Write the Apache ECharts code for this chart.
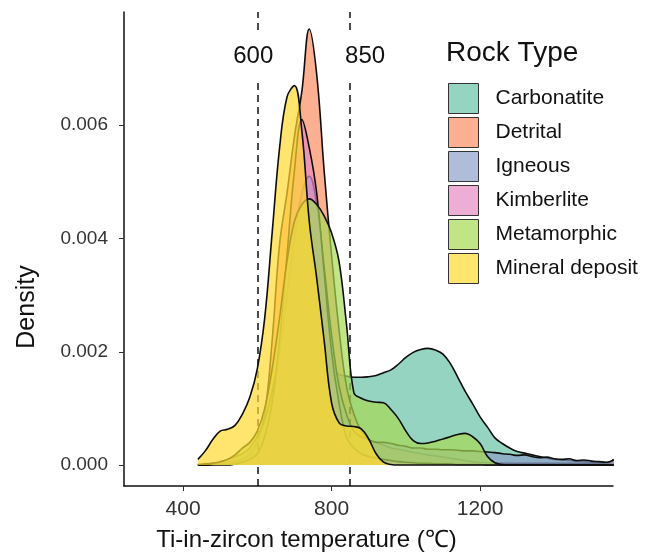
<!DOCTYPE html>
<html>
<head>
<meta charset="utf-8">
<script src="https://cdn.jsdelivr.net/npm/echarts@6/dist/echarts.min.js"></script>
<style>
  html, body { margin: 0; padding: 0; background: #ffffff; }
  #chart { width: 646px; height: 560px; }
</style>
</head>
<body>
<div id="chart"></div>
<script>
// Temperature grid (°C) on which every density curve is sampled
const temps = [
  440, 460, 480, 500, 520, 540, 560, 580, 600, 620,
  640, 660, 680, 700, 720, 740, 760, 780, 800, 820,
  840, 860, 880, 900, 920, 940, 960, 980, 1000, 1020,
  1040, 1060, 1080, 1100, 1120, 1140, 1160, 1180, 1200, 1220,
  1240, 1260, 1280, 1300, 1320, 1340, 1360, 1380, 1400, 1420,
  1440, 1460, 1480, 1500, 1520, 1540, 1560
];

const rockTypes = ['Carbonatite', 'Detrital', 'Igneous', 'Kimberlite', 'Metamorphic', 'Mineral deposit'];

// Kernel density of Ti-in-zircon temperature for each rock type
const carbonatite = [
  0.00001, 0.00002, 0.00003, 0.00004, 0.00005, 0.00007, 0.0001, 0.00015, 0.00025, 0.0004,
  0.0007, 0.001, 0.0013, 0.0016, 0.0018, 0.0019, 0.0019, 0.0018, 0.0017, 0.0016,
  0.00157, 0.00155, 0.00155, 0.00156, 0.00158, 0.00163, 0.00168, 0.00178, 0.0019, 0.00199,
  0.00204, 0.00206, 0.00203, 0.00196, 0.00179, 0.00155, 0.0013, 0.00108, 0.00085, 0.00067,
  0.00048, 0.00038, 0.0003, 0.00024, 0.00021, 0.00018, 0.00015, 0.00012, 0.0001, 0.00009,
  0.00008, 0.00007, 0.00006, 0.00005, 0.00004, 0.00003, 0.00003
];
const detrital = [
  0, 0, 0.00001, 0.00002, 0.00003, 0.00005, 0.0001, 0.0002, 0.0004, 0.0009,
  0.0022, 0.0039, 0.0048, 0.0058, 0.0066, 0.0077, 0.0069, 0.0052, 0.0037, 0.0024,
  0.0014, 0.0009, 0.0006, 0.00045, 0.0004, 0.00035, 0.0003, 0.00028, 0.00025, 0.00022,
  0.0002, 0.00018, 0.00016, 0.00014, 0.00012, 0.0001, 0.00008, 0.00006, 0.00005, 0.00004,
  0.00003, 0.00003, 0.00003, 0.00003, 0.00003, 0.00003, 0.00003, 0.00003, 0.00003, 0.00003,
  0.00003, 0.00003, 0.00003, 0.00003, 0.00003, 0.00003, 0.0001
];
const igneous = [
  0, 0, 0.00002, 0.00005, 0.0001, 0.00015, 0.0002, 0.0003, 0.0005, 0.0008,
  0.0013, 0.002, 0.003, 0.004, 0.0048, 0.0051, 0.0046, 0.0035, 0.0023, 0.0014,
  0.0009, 0.0006, 0.0005, 0.00045, 0.0004, 0.0004, 0.00038, 0.00035, 0.00033, 0.0003,
  0.0003, 0.00028, 0.00028, 0.00027, 0.00027, 0.00026, 0.00025, 0.00025, 0.00024, 0.00023,
  0.00022, 0.0002, 0.00019, 0.00017, 0.00018, 0.00015, 0.00013, 0.00014, 0.00011, 0.0001,
  0.00011, 0.00008, 0.00009, 0.00007, 0.00006, 0.00005, 0.00009
];
const kimberlite = [
  0, 0, 0, 0, 0, 0.00002, 0.00005, 0.0001, 0.0002, 0.0005,
  0.0011, 0.0022, 0.0037, 0.0052, 0.0061, 0.0056, 0.0048, 0.0034, 0.002, 0.0011,
  0.0005, 0.0003, 0.0002, 0.00015, 0.00012, 0.0001, 0.00008, 0.00006, 0.00005, 0.00004,
  0.00003, 0.00003, 0.00002, 0.00002, 0.00002, 0.00001, 0.00001, 0.00001, 0.00001, 0,
  0, 0, 0, 0, 0, 0, 0, 0, 0, 0,
  0, 0, 0, 0, 0, 0, 0
];
const metamorphic = [
  0, 0, 0.00003, 0.00006, 0.0001, 0.00018, 0.0003, 0.0004, 0.0006, 0.001,
  0.0017, 0.0026, 0.0036, 0.0043, 0.0046, 0.0047, 0.0046, 0.0044, 0.0041, 0.0036,
  0.0025, 0.00128, 0.00118, 0.00113, 0.00111, 0.0011, 0.00098, 0.00082, 0.0006, 0.00043,
  0.00038, 0.00039, 0.00042, 0.00046, 0.0005, 0.00054, 0.00056, 0.0005, 0.00038, 0.00015,
  0.00004, 0.00001, 0, 0, 0, 0, 0, 0, 0, 0,
  0, 0, 0, 0, 0, 0, 0
];
const mineralDeposit = [
  0.0001, 0.00025, 0.00045, 0.0006, 0.00063, 0.0007, 0.0009, 0.0012, 0.0017, 0.0026,
  0.0041, 0.0056, 0.0065, 0.0067, 0.0059, 0.0043, 0.0033, 0.0022, 0.0011, 0.00075,
  0.00069, 0.00068, 0.00064, 0.00046, 0.0002, 0.00005, 0.00001, 0, 0, 0,
  0, 0, 0, 0, 0, 0, 0, 0, 0, 0,
  0, 0, 0, 0, 0, 0, 0, 0, 0, 0,
  0, 0, 0, 0, 0, 0, 0
];

// Reference temperatures marked with dashed lines
const refTemps = [600, 850];
const refLabels = ['600', '850'];

const xTicks = [400, 800, 1200];
const yTicks = [0, 0.002, 0.004, 0.006];

const densities = [carbonatite, detrital, igneous, kimberlite, metamorphic, mineralDeposit];
const palette = ['#66C2A5', '#FC8D62', '#8DA0CB', '#E78AC3', '#A6D854', '#FFD92F'];
const fillAlpha = 0.7;

function rgba(hex, a) {
  const n = parseInt(hex.slice(1), 16);
  return 'rgba(' + ((n >> 16) & 255) + ',' + ((n >> 8) & 255) + ',' + (n & 255) + ',' + a + ')';
}

const FONT = '"Liberation Sans", Arial, Helvetica, sans-serif';
const X_MIN = 241, X_MAX = 1558;
const Y_MIN = -0.00037, Y_MAX = 0.0080;

// One filled density area per rock type, stacked in drawing order
const densitySeries = rockTypes.map((name, i) => ({
  name: name,
  type: 'line',
  smooth: 0.4,
  symbol: 'none',
  showSymbol: false,
  silent: true,
  z: 2 + i,
  data: temps.map((t, j) => [t, densities[i][j]]),
  lineStyle: { color: '#0d0d0d', width: 1.6 },
  itemStyle: { color: rgba(palette[i], fillAlpha) },
  areaStyle: { color: rgba(palette[i], fillAlpha), opacity: 1 },
  emphasis: { disabled: true }
}));

// Dashed reference lines with their temperature labels
const refSeries = {
  name: 'reference',
  type: 'line',
  data: [],
  z: 20,
  silent: true,
  markLine: {
    silent: true,
    symbol: 'none',
    animation: false,
    label: { show: false },
    lineStyle: { color: '#111111', width: 1.5, type: [7, 5] },
    data: refTemps.map(t => ({ xAxis: t }))
  },
  markPoint: {
    silent: true,
    animation: false,
    symbol: 'rect',
    symbolSize: 0,
    data: refTemps.map((t, i) => ({
      coord: [t, 0.00722],
      value: refLabels[i],
      label: { offset: [i === 0 ? -4 : 15, 0] }
    })),
    label: {
      show: true,
      position: 'inside',
      formatter: '{c}',
      color: '#111111',
      fontFamily: FONT,
      fontSize: 24,
      backgroundColor: '#ffffff',
      padding: [14, 3]
    }
  }
};

const chart = echarts.init(document.getElementById('chart'), null, { renderer: 'canvas' });
chart.setOption({
  animation: false,
  backgroundColor: '#ffffff',
  title: {
    text: 'Rock Type',
    left: 446,
    top: 39,
    padding: 0,
    textStyle: { fontFamily: FONT, fontSize: 28, fontWeight: 'normal', color: '#111111' }
  },
  legend: {
    orient: 'vertical',
    left: 448,
    top: 83,
    padding: 0,
    itemWidth: 30,
    itemHeight: 30,
    itemGap: 3,
    icon: 'rect',
    selectedMode: false,
    textStyle: { fontFamily: FONT, fontSize: 21, color: '#111111', padding: [0, 0, 0, 12] },
    data: rockTypes.map((name, i) => ({
      name: name,
      icon: 'rect',
      itemStyle: { color: rgba(palette[i], fillAlpha), borderColor: '#333333', borderWidth: 1 }
    }))
  },
  grid: { left: 124, right: 33, top: 12, bottom: 74, containLabel: false },
  xAxis: {
    type: 'value',
    min: X_MIN,
    max: X_MAX,
    name: 'Ti-in-zircon temperature (℃)',
    nameLocation: 'middle',
    nameGap: 42,
    nameTextStyle: { fontFamily: FONT, fontSize: 24, color: '#111111', padding: [0, 124, 0, 0] },
    splitLine: { show: false },
    axisLine: { show: true, onZero: false, lineStyle: { color: '#111111', width: 1.5 } },
    axisTick: { show: true, length: 5, customValues: xTicks, lineStyle: { color: '#333333', width: 1 } },
    axisLabel: {
      customValues: xTicks,
      margin: 13,
      fontFamily: FONT,
      fontSize: 21,
      color: '#333333',
      formatter: v => String(v)
    }
  },
  yAxis: {
    type: 'value',
    min: Y_MIN,
    max: Y_MAX,
    name: 'Density',
    nameLocation: 'middle',
    nameGap: 84,
    nameTextStyle: { fontFamily: FONT, fontSize: 25, color: '#111111', padding: [0, 116, 0, 0] },
    splitLine: { show: false },
    axisLine: { show: true, onZero: false, lineStyle: { color: '#111111', width: 1.5 } },
    axisTick: { show: true, length: 5, customValues: yTicks, lineStyle: { color: '#333333', width: 1 } },
    axisLabel: {
      customValues: yTicks,
      margin: 16,
      fontFamily: FONT,
      fontSize: 19,
      color: '#333333',
      formatter: v => v.toFixed(3)
    }
  },
  series: densitySeries.concat([refSeries])
});
</script>
</body>
</html>
